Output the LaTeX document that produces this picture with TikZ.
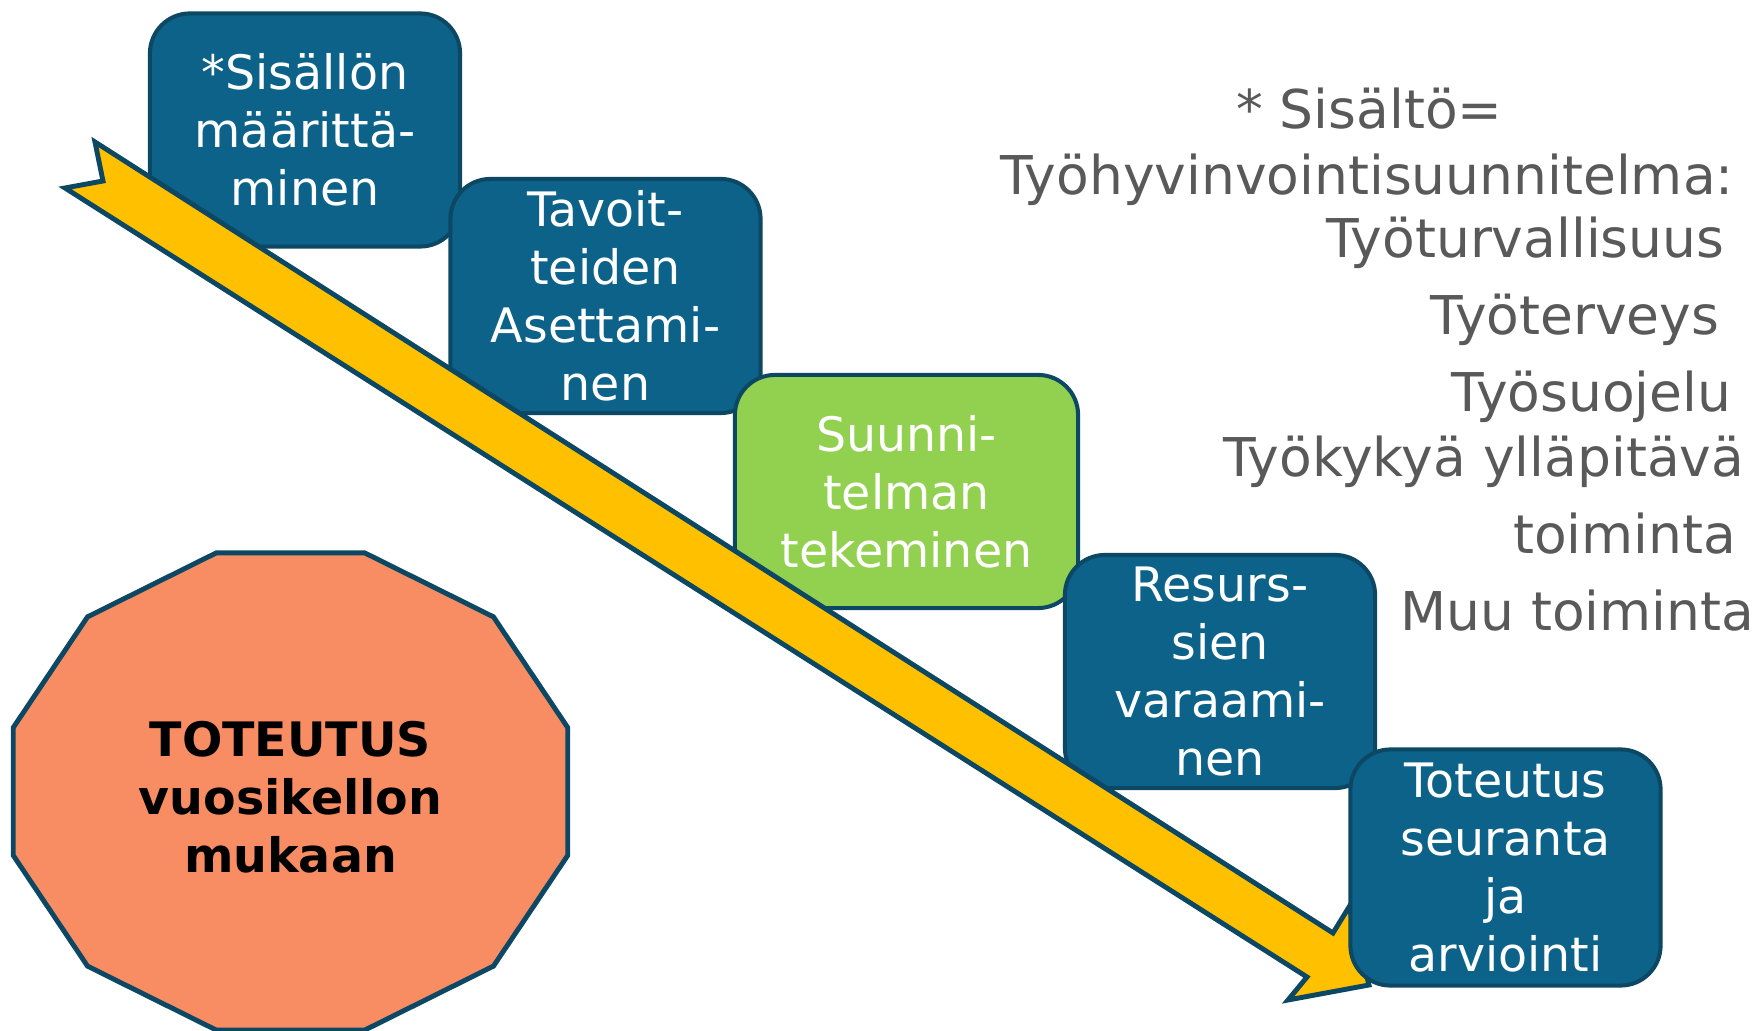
\documentclass[tikz,border=0pt]{standalone}
\usepackage{fontspec}
\setmainfont{DejaVu Sans}
\usetikzlibrary{positioning}
\definecolor{boxblue}{RGB}{12,98,137}
\definecolor{boxline}{RGB}{12,72,100}
\definecolor{boxgreen}{RGB}{146,208,80}
\definecolor{arrowyellow}{RGB}{255,192,0}
\definecolor{octoorange}{RGB}{248,140,98}
\definecolor{textgray}{RGB}{89,89,89}

\tikzset{
	stepbox/.style={draw=boxline, line width=1.15pt, fill=boxblue, rounded corners=0.4cm,
		text=white, align=center, inner sep=0pt, minimum width=3.1cm, minimum height=2.33cm,
		font=\fontsize{13.5}{16.5}\selectfont},
	sidetext/.style={text=textgray, inner sep=0pt, font=\fontsize{15.2}{18}\selectfont}
}

\begin{document}
\begin{tikzpicture}[x=0.01cm, y=-0.01cm]
\useasboundingbox (0,0) rectangle (1760,1031);

%%%%%%%%%%%%%%% steps %%%%%%%%%%%%%%%%
\node[stepbox] (maarittaminen) at (305,130) {*Sisällön\\määrittä-\\minen};
\node[stepbox, minimum height=2.34cm] (asettaminen) at (605.5,296) {Tavoit-\\teiden\\Asettami-\\nen};
\node[stepbox, fill=boxgreen, minimum width=3.43cm] (tekeminen) at (906.5,491.5) {Suunni-\\telman\\tekeminen};
\node[stepbox] (varaaminen) at (1220,671.5) {Resurs-\\sien\\varaami-\\nen};

%%%%%%%%%%%%%%% arrow %%%%%%%%%%%%%%%%
\filldraw[fill=arrowyellow, draw=boxline, line width=1.4pt]
	(95,142) -- (1333,933) -- (1349,907) -- (1369,985) -- (1288,1000)
	-- (1307,977) -- (65,188) -- (103,181) -- cycle;

\node[stepbox, minimum height=2.36cm] (arviointi) at (1505.5,867.5) {Toteutus\\seuranta\\ja\\arviointi};

%%%%%%%%%%%%%%% octagon %%%%%%%%%%%%%%%%
\begin{scope}[shift={(290.5,791.5)}]
\filldraw[fill=octoorange, draw=boxline, line width=1.4pt]
	(15:287 and 247) \foreach \a in {45,75,...,345} { -- (\a:287 and 247)} -- cycle;
\node[align=center, font=\fontsize{13.5}{16.5}\selectfont\bfseries] (toteutus) at (0,6) {TOTEUTUS\\vuosikellon\\mukaan};
\end{scope}

%%%%%%%%%%%%%%% contents %%%%%%%%%%%%%%%%
\node[sidetext, anchor=base] (sisalto) at (1369.5,129) {* Sisältö=};
\node[sidetext, anchor=base] (suunnitelma) at (1367,195) {Työhyvinvointisuunnitelma:};
\node[sidetext, anchor=base east] (turvallisuus) at (1725,258) {Työturvallisuus};
\node[sidetext, anchor=base east] (terveys) at (1720,335) {Työterveys};
\node[sidetext, anchor=base east] (suojelu) at (1732,412) {Työsuojelu};
\node[sidetext, anchor=base east] (tyokyky) at (1745,477) {Työkykyä ylläpitävä};
\node[sidetext, anchor=base east] (toiminta) at (1737,554) {toiminta};
\node[sidetext, anchor=base east] (muu) at (1755,631) {Muu toiminta};

\end{tikzpicture}
\end{document}
